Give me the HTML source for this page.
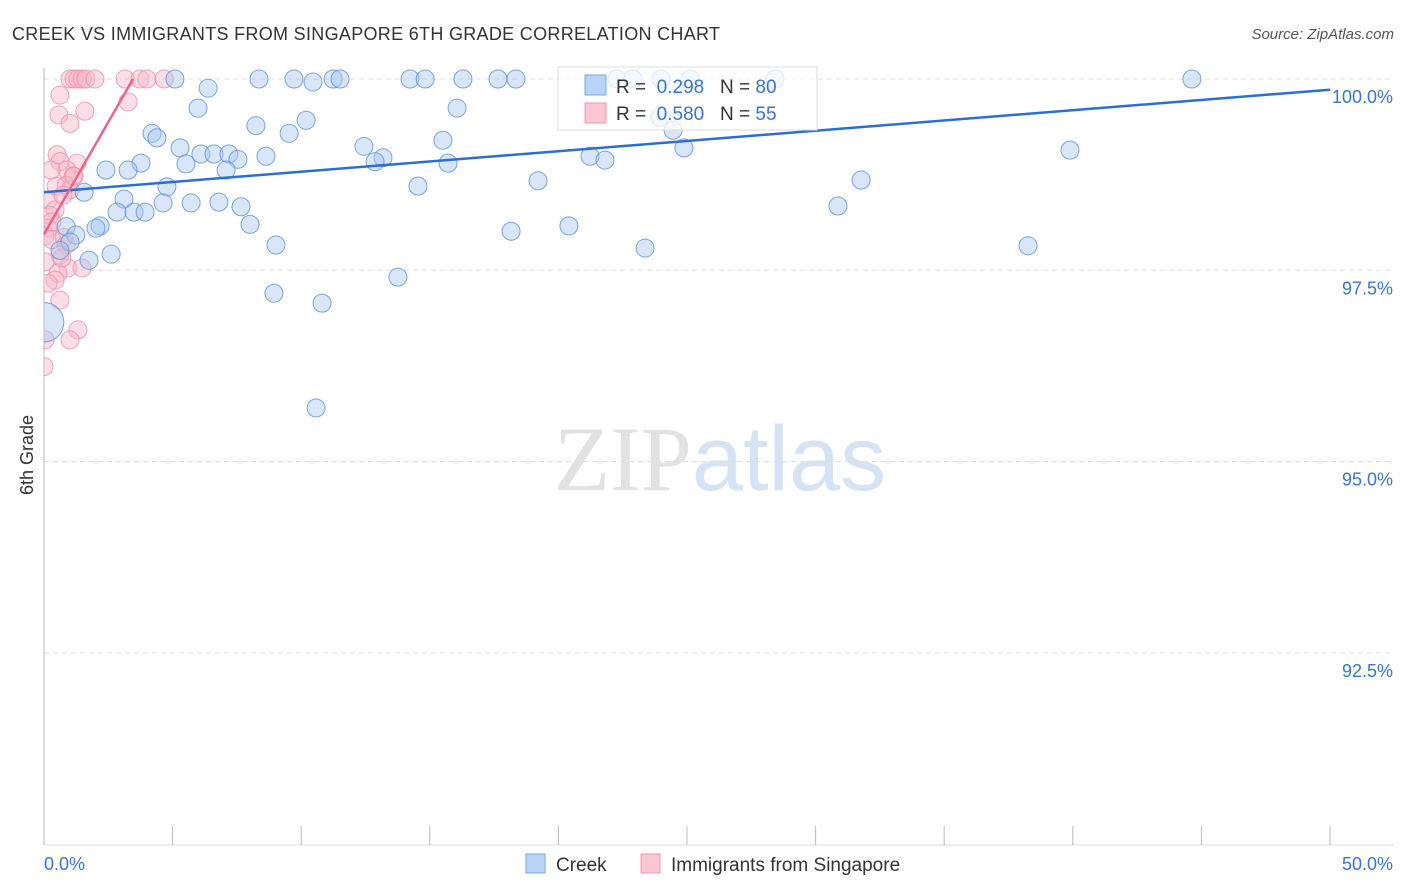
<!DOCTYPE html>
<html><head><meta charset="utf-8"><style>
body{margin:0;background:#fff;font-family:"Liberation Sans",sans-serif}
</style></head><body>
<svg id="chart" width="1406" height="892" xmlns="http://www.w3.org/2000/svg" style="display:block">
<defs><clipPath id="plotclip"><rect x="44" y="60" width="1360" height="786"/></clipPath></defs>
<text x="12" y="40" font-size="18" fill="#333" textLength="708">CREEK VS IMMIGRANTS FROM SINGAPORE 6TH GRADE CORRELATION CHART</text>
<text x="1394" y="39" font-size="15" fill="#555" text-anchor="end" font-style="italic">Source: ZipAtlas.com</text>
<text x="720" y="490" font-size="92" text-anchor="middle"><tspan fill="#e2e2e2" font-family="Liberation Serif">ZIP</tspan><tspan fill="#d6e3f4">atlas</tspan></text>
<text transform="translate(33,455) rotate(-90)" font-size="18" fill="#333" text-anchor="middle">6th Grade</text>
<g id="grid"></g><g id="axes"></g><g id="points" clip-path="url(#plotclip)"></g><g id="lines"></g>
<g>
<rect x="558" y="67" width="259" height="63" fill="#fff" fill-opacity="0.75" stroke="#ddd"/>
<rect x="585" y="75" width="21" height="20" fill="#b8d3f5" stroke="#7aa7e6"/>
<rect x="585" y="103" width="21" height="20" fill="#f9c6d4" stroke="#ef98b0"/>
<text x="616" y="93" font-size="19" fill="#333">R = <tspan fill="#3a74cf">&#160;0.298</tspan>&#160;&#160;&#160;N = <tspan fill="#3a74cf">80</tspan></text>
<text x="616" y="120" font-size="19" fill="#333">R = <tspan fill="#3a74cf">&#160;0.580</tspan>&#160;&#160;&#160;N = <tspan fill="#3a74cf">55</tspan></text>
</g>
<g>
<rect x="526" y="854" width="19" height="19" fill="#b8d3f5" stroke="#7aa7e6"/>
<text x="556" y="871" font-size="19" fill="#333">Creek</text>
<rect x="641" y="854" width="19" height="19" fill="#f9c6d4" stroke="#ef98b0"/>
<text x="671" y="871" font-size="19" fill="#333">Immigrants from Singapore</text>
</g>
</svg>
<script>
const yTicks=[100,97.5,95,92.5];
const yTickLabels=["100.0%","97.5%","95.0%","92.5%"];
const xTickLabels=["0.0%","50.0%"];
const creekX=[5.09,6.38,8.36,9.72,10.46,11.24,11.51,14.23,14.82,16.29,17.65,18.35,22.28,22.90,23.99,25.12,28.42,44.63,5.99,16.06,10.19,8.24,4.20,4.39,9.53,5.29,15.51,12.44,6.10,6.61,7.19,7.54,8.63,13.18,12.87,15.71,3.77,5.52,7.08,2.41,3.27,21.23,21.81,24.88,39.89,24.46,23.95,4.78,1.56,14.54,19.21,31.77,3.11,4.63,5.72,6.80,7.66,2.84,3.50,3.93,8.01,30.87,2.18,2.02,0.86,18.16,20.41,9.02,1.24,1.01,23.37,38.26,2.61,1.75,13.76,8.94,10.81,10.58,0,0.62];
const creekY=[100,99.88,100,100,99.96,100,100,100,100,100,100,100,100,100,100,100,100,100,99.62,99.62,99.46,99.39,99.29,99.23,99.29,99.10,99.20,99.12,99.02,99.02,99.02,98.95,98.99,98.97,98.92,98.90,98.90,98.89,98.81,98.81,98.81,98.99,98.94,99.10,99.07,99.33,99.50,98.59,98.52,98.60,98.67,98.68,98.43,98.38,98.38,98.39,98.33,98.26,98.26,98.26,98.10,98.34,98.08,98.05,98.07,98.01,98.08,97.83,97.96,97.87,97.79,97.82,97.71,97.63,97.41,97.20,97.07,95.70,96.82,97.76];
const creekSize=creekX.map((v,i)=>i===78?2.2:1);
const singX=[1.01,1.17,1.32,1.48,1.63,1.98,3.15,3.73,4.0,4.67,0.62,0.58,1.01,1.59,3.27,0.51,0.62,1.28,0.89,1.13,0.86,1.01,0.16,0.43,0.23,0.16,0.04,0.31,0.78,0.86,0.62,0.04,0.93,1.48,0.54,0.43,0.16,0.62,1.32,1.01,0.04,0,0.70,0.31,0.47,0.74,1.17,0.27];
const singY=[100,100,100,100,100,100,100,100,100,100,99.79,99.53,99.42,99.58,99.70,99.01,98.92,98.90,98.81,98.73,98.61,98.55,98.42,98.29,98.22,98.05,97.95,97.90,97.93,97.83,97.70,97.61,97.53,97.53,97.46,97.37,97.33,97.11,96.72,96.59,96.59,96.24,97.66,98.13,98.60,98.48,98.73,98.81];
const creekLine=[[0,98.52],[50,99.86]];
const singLine=[[0,97.97],[3.46,100]];
const NS="http://www.w3.org/2000/svg";
const sx=v=>44+v*25.72, sy=v=>79+(100-v)*76.5;
function mk(tag,attrs,parent){const e=document.createElementNS(NS,tag);for(const k in attrs)e.setAttribute(k,attrs[k]);document.getElementById(parent).appendChild(e);return e;}
yTicks.forEach((t,i)=>{
 const g=mk('line',{x1:44,x2:1394,y1:sy(t),y2:sy(t),stroke:'#ddd','stroke-dasharray':'5,4'},'grid');
 
 
 const l=mk('text',{x:1393,y:sy(t)+24,'font-size':18,fill:'#3a74cf','text-anchor':'end'},'grid');
 l.textContent=yTickLabels[i];
 
 
});
const ya=mk('line',{x1:44,x2:44,y1:68,y2:845,stroke:'#bbb'},'axes');


const xa=mk('line',{x1:44,x2:1394,y1:845,y2:845,stroke:'#ddd'},'axes');


for(let i=0;i<=10;i++){const t=mk('line',{x1:sx(i*5),x2:sx(i*5),y1:826,y2:845,stroke:'#bbb'},'axes');
 
 }
xTickLabels.forEach((s,i)=>{const t=mk('text',{x:i?1393:44,y:870,'font-size':18,fill:'#3a74cf','text-anchor':i?'end':'start'},'axes');t.textContent=s;
 
 });
singX.forEach((x,i)=>{const c=mk('circle',{cx:sx(x),cy:sy(singY[i]),r:9,fill:'#f7b6c8','fill-opacity':0.45,stroke:'#ec8fab','stroke-opacity':0.8},'points');
 
 });
creekX.forEach((x,i)=>{const c=mk('circle',{cx:sx(x),cy:sy(creekY[i]),r:9*creekSize[i],fill:'#a9c8f0','fill-opacity':0.45,stroke:'#5b90dc','stroke-opacity':0.8},'points');
 
 });
const bl=mk('line',{x1:sx(creekLine[0][0]),y1:sy(creekLine[0][1]),x2:sx(creekLine[1][0]),y2:sy(creekLine[1][1]),stroke:'#2a6fd6','stroke-width':2.5},'lines');


const pl=mk('line',{x1:sx(singLine[0][0]),y1:sy(singLine[0][1]),x2:sx(singLine[1][0]),y2:sy(singLine[1][1]),stroke:'#e8668c','stroke-width':2.5},'lines');


</script>
</body></html>
